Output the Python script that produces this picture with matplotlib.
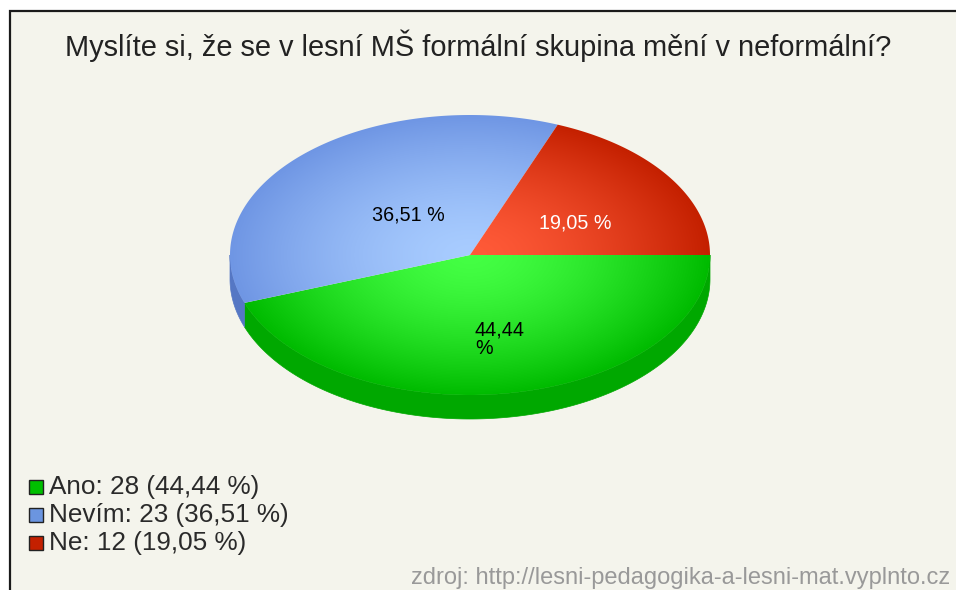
import numpy as np
import matplotlib
matplotlib.use("Agg")
import matplotlib.pyplot as plt
from matplotlib.colors import LinearSegmentedColormap
from matplotlib.patches import Polygon, Rectangle

plt.rcParams["font.family"] = ["Liberation Sans", "DejaVu Sans"]

title = "Myslíte si, že se v lesní MŠ formální skupina mění v neformální?"
source = "zdroj: http://lesni-pedagogika-a-lesni-mat.vyplnto.cz"
categories = ["Ano", "Nevím", "Ne"]
counts = [28, 23, 12]
percents = ["44,44", "36,51", "19,05"]
swatch_colors = ["#00c000", "#6b95e0", "#c42000"]
inner_colors = ["#44ff44", "#a8ccff", "#ff5a38"]
outer_colors = ["#00bb00", "#6f96e4", "#c42000"]
side_colors = ["#00a800", "#5577c4", "#a01800"]
label_colors = ["black", "black", "white"]

# pie geometry in pixels
cx, cy, rx, ry, depth = 470, 255, 240, 140, 24


def arc(a0, a1, shift=0):
    t = np.radians(np.linspace(a0, a1, 200))
    return np.column_stack([cx + rx * np.cos(t), cy + ry * np.sin(t) + shift])


fig = plt.figure(figsize=(9.56, 5.9), dpi=100, facecolor="white")
ax = fig.add_axes([0, 0, 1, 1])
ax.set_xlim(0, 956)
ax.set_ylim(590, 0)
ax.axis("off")

# panel background, runs off the right and bottom edge
ax.add_patch(Rectangle((10, 11), 960, 600, facecolor="#f4f4ec", edgecolor="#1a1a1a", lw=1.6))

ax.text(478, 46, title, fontsize=20.9, ha="center", va="center", color="#222222")

# angles go clockwise from 3 o'clock, y axis is flipped so they just increase
shares = np.array(counts) / sum(counts)
edges = np.concatenate([[0], np.cumsum(shares) * 360])

# side wall, only the front half shows
for i, col in enumerate(side_colors):
    a0, a1 = edges[i], min(edges[i + 1], 180)
    if a0 >= 180:
        continue
    pts = np.vstack([arc(a0, a1), arc(a0, a1, depth)[::-1]])
    ax.add_patch(Polygon(pts, closed=True, facecolor=col, edgecolor=col, lw=0.5))

# radial shaded top
xx, yy = np.meshgrid(np.linspace(-1, 1, 500), np.linspace(-1, 1, 500))
rr = np.clip(np.hypot(xx, yy), 0, 1) ** 1.5
for i in range(len(counts)):
    cmap = LinearSegmentedColormap.from_list("s", [inner_colors[i], outer_colors[i]])
    im = ax.imshow(rr, cmap=cmap, vmin=0, vmax=1, aspect="auto", zorder=2,
                   extent=(cx - rx, cx + rx, cy + ry, cy - ry), interpolation="bilinear")
    wedge = Polygon(np.vstack([[cx, cy], arc(edges[i], edges[i + 1])]), closed=True,
                    transform=ax.transData, facecolor="none", edgecolor="none")
    ax.add_patch(wedge)
    im.set_clip_path(wedge)

# imshow resets the limits
ax.set_xlim(0, 956)
ax.set_ylim(590, 0)

# the green label wraps in the original
ax.text(475, 321, percents[0] + "\n%", fontsize=14.2, ha="left", va="top",
        color=label_colors[0], zorder=3, linespacing=0.95)
ax.text(408, 215, percents[1] + " %", fontsize=14.2, ha="center", va="center", color=label_colors[1], zorder=3)
ax.text(575, 223, percents[2] + " %", fontsize=14.2, ha="center", va="center", color=label_colors[2], zorder=3)

# legend
for i, name in enumerate(categories):
    y = 487 + i * 28
    ax.add_patch(Rectangle((29, y - 7), 14, 14, facecolor=swatch_colors[i], edgecolor="#222222", lw=1))
    ax.text(49, y, f"{name}: {counts[i]} ({percents[i]} %)", fontsize=18.8, va="center", color="#2a2a2a")

ax.text(950, 578, source, fontsize=17, ha="right", va="center", color="#999999")

fig.savefig("out.png", dpi=100, facecolor="white")
